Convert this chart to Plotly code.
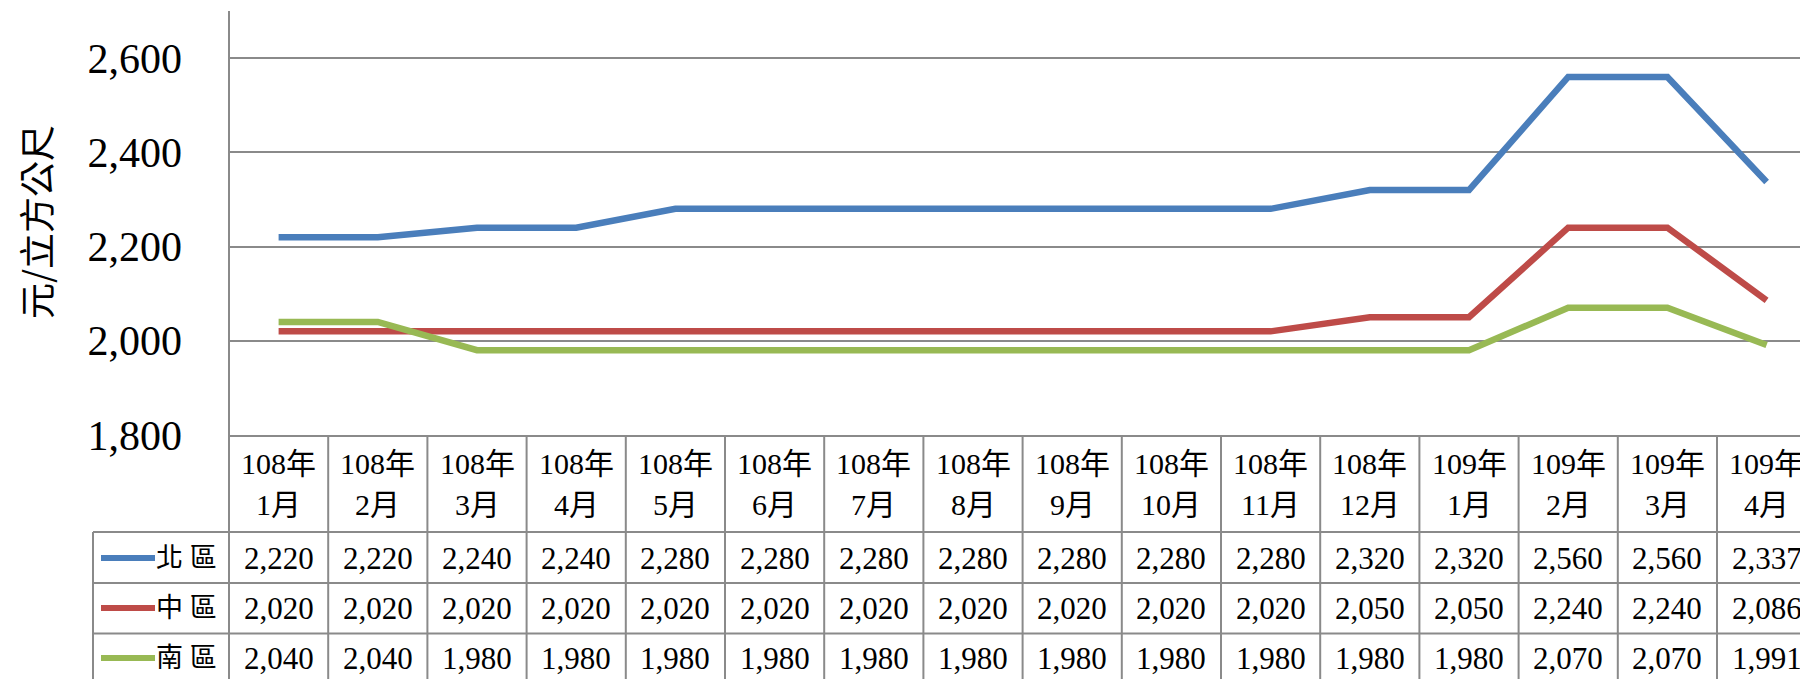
import plotly.graph_objects as go

O = 8  # page body margin offset
W, H = 1808 - O, 679 - O
years = ["108年"] * 12 + ["109年"] * 4
months = ["1月", "2月", "3月", "4月", "5月", "6月", "7月", "8月", "9月", "10月", "11月", "12月",
          "1月", "2月", "3月", "4月"]
series_names = ["北區", "中區", "南區"]
north = [2220, 2220, 2240, 2240, 2280, 2280, 2280, 2280, 2280, 2280, 2280, 2320, 2320, 2560, 2560, 2337]
central = [2020, 2020, 2020, 2020, 2020, 2020, 2020, 2020, 2020, 2020, 2020, 2050, 2050, 2240, 2240, 2086]
south = [2040, 2040, 1980, 1980, 1980, 1980, 1980, 1980, 1980, 1980, 1980, 1980, 1980, 2070, 2070, 1991]
colors = ["#4A7EBB", "#BE4B48", "#98B954"]
y_ticks = [1800, 2000, 2200, 2400, 2600]
y_title = "元/立方公尺"

series = [north, central, south]
n = len(months)

L, T, B_PX = 229 - O, 11 - O, 435 - O
PH = B_PX - T
PW = W - L
COLW = 99.2

def py(p):
    return (B_PX - (p - O)) / PH

def px(p):
    return ((p - O) - L) / PW

FONT = "Liberation Serif, 'Times New Roman', 'Noto Sans CJK TC', serif"
GRID = "#8a8a8a"

fig = go.Figure()
xs = list(range(n))
for name, vals, c in zip(series_names, series, colors):
    fig.add_trace(go.Scatter(x=xs, y=vals, mode="lines", name=name,
                             line=dict(color=c, width=6.5), showlegend=False,
                             cliponaxis=False))

shapes = []
ann = []
bottom = py(720)
for k in range(1, n + 1):
    shapes.append(dict(type="line", xref="x", yref="paper", x0=k - 0.5, x1=k - 0.5,
                       y0=0, y1=bottom, line=dict(color=GRID, width=2)))
shapes.append(dict(type="line", xref="paper", yref="paper", x0=0, x1=0,
                   y0=1, y1=bottom, line=dict(color=GRID, width=2)))
shapes.append(dict(type="line", xref="paper", yref="paper", x0=px(93), x1=px(93),
                   y0=py(532), y1=bottom, line=dict(color=GRID, width=2)))
for yy in [532, 583, 633.5]:
    shapes.append(dict(type="line", xref="paper", yref="paper", x0=px(93), x1=1.01,
                       y0=py(yy), y1=py(yy), line=dict(color=GRID, width=2)))

for i in range(n):
    ann.append(dict(x=i, y=py(463), xref="x", yref="paper", text=years[i], showarrow=False,
                    font=dict(family=FONT, size=30, color="black"), xanchor="center", yanchor="middle"))
    ann.append(dict(x=i, y=py(505), xref="x", yref="paper", text=months[i], showarrow=False,
                    font=dict(family=FONT, size=30, color="black"), xanchor="center", yanchor="middle"))

row_y = [558, 608, 658]
for r, (name, vals, c) in enumerate(zip(series_names, series, colors)):
    yc = py(row_y[r])
    shapes.append(dict(type="line", xref="paper", yref="paper", x0=px(101), x1=px(155),
                       y0=yc, y1=yc, line=dict(color=c, width=6)))
    ann.append(dict(x=px(219), y=yc, xref="paper", yref="paper", text=name[0] + " " + name[1],
                    showarrow=False, xanchor="right", yanchor="middle",
                    font=dict(family=FONT, size=27, color="black")))
    for i, v in enumerate(vals):
        ann.append(dict(x=i, y=yc, xref="x", yref="paper", text=f"{v:,}", showarrow=False,
                        xanchor="center", yanchor="middle",
                        font=dict(family=FONT, size=31, color="black")))

ann.append(dict(x=px(35), y=py(222), xref="paper", yref="paper", text=y_title, textangle=-90,
                showarrow=False, xanchor="center", yanchor="middle",
                font=dict(family="'Noto Sans CJK TC', serif", size=36, color="black")))

fig.update_layout(
    width=W, height=H,
    margin=dict(l=L, r=0, t=T, b=H - B_PX, autoexpand=False),
    paper_bgcolor="white", plot_bgcolor="white",
    shapes=shapes, annotations=ann,
    xaxis=dict(range=[-0.5, -0.5 + PW / COLW], showgrid=False, showticklabels=False,
               zeroline=False, showline=True, linecolor=GRID, linewidth=2, ticks=""),
    yaxis=dict(range=[1800, 2700], tickvals=y_ticks, ticktext=[f"{v:,}" for v in y_ticks],
               showgrid=True, gridcolor=GRID, gridwidth=1.5, zeroline=False,
               showline=False, ticks="", ticklabelstandoff=46,
               tickfont=dict(family=FONT, size=42, color="black")),
    showlegend=False,
)

fig.write_html("out.html")
